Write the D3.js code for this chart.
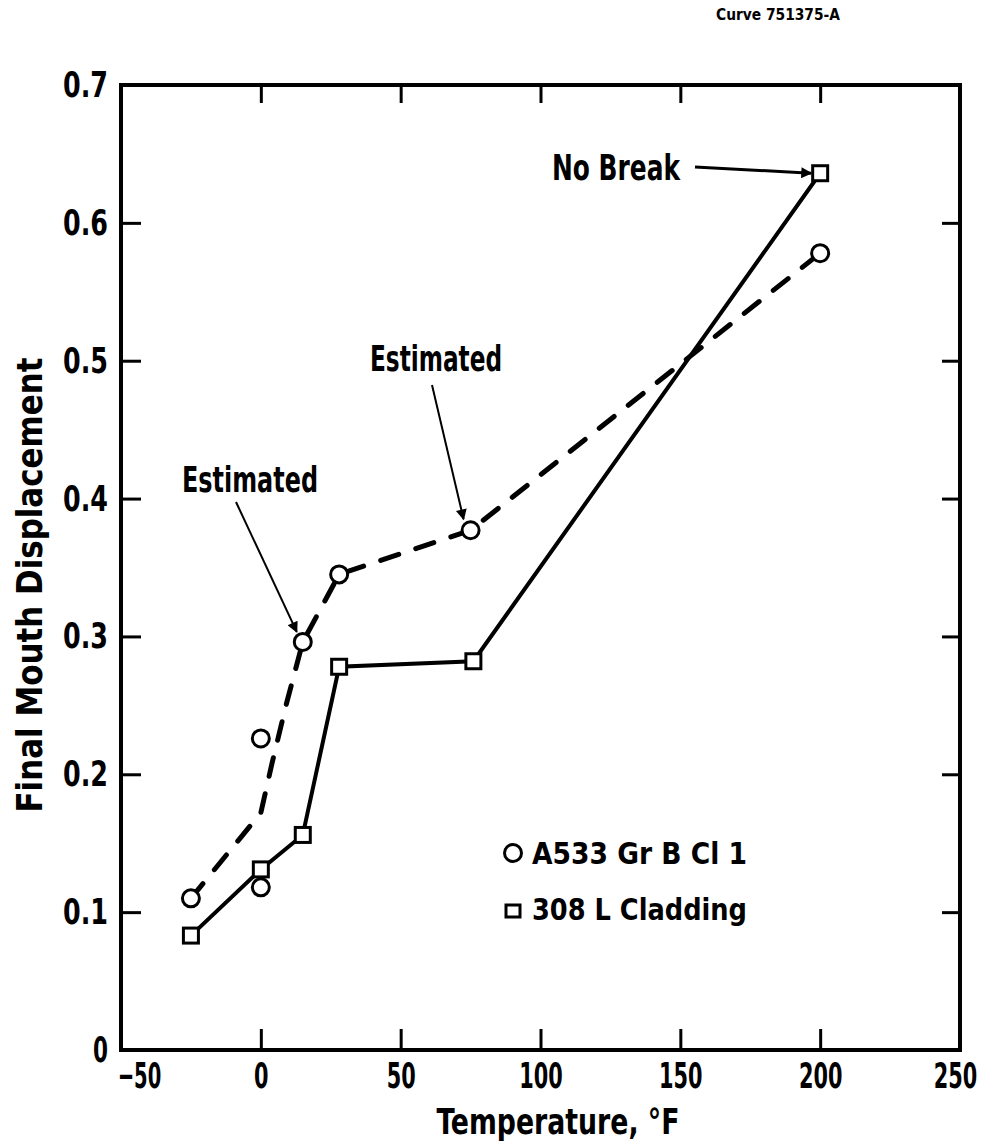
<!DOCTYPE html>
<html>
<head>
<meta charset="utf-8">
<title>Final Mouth Displacement vs Temperature</title>
<script src="https://d3js.org/d3.v7.min.js"></script>
<style>
  body { margin: 0; background: #fff; }
  svg text { font-family: "DejaVu Sans Condensed", "DejaVu Sans", sans-serif; font-weight: bold; fill: #000; }
  .axis path { display: none; }
  .axis line { stroke: #000; stroke-width: 3; }
</style>
</head>
<body>
<svg id="chart" width="989" height="1144"></svg>
<script>
// values
const tempsA533 = [-25, 0, 0, 15, 28, 75, 200];
const dispA533 = [0.110, 0.118, 0.226, 0.296, 0.345, 0.377, 0.578];
// dashed trend line as drawn through the A533 data
const trendTemps = [-25, 0, 4, 9, 15, 28, 75, 200];
const trendDisp = [0.110, 0.172, 0.208, 0.250, 0.296, 0.345, 0.377, 0.578];
const temps308 = [-25, 0, 15, 28, 76, 200];
const disp308 = [0.083, 0.131, 0.156, 0.278, 0.282, 0.636];
const xTicks = [-50, 0, 50, 100, 150, 200, 250];
const yTicks = [0, 0.1, 0.2, 0.3, 0.4, 0.5, 0.6, 0.7];
const yTickLabels = ["0", "0.1", "0.2", "0.3", "0.4", "0.5", "0.6", "0.7"];

const pLeft = 121, pRight = 960, pTop = 85, pBottom = 1050;
const svg = d3.select("#chart");

const x = d3.scaleLinear().domain([-50, 250]).range([pLeft, pRight]);
const y = d3.scaleLinear().domain([0, 0.7]).range([pBottom, pTop]);

// squeeze text to the narrow lettering of the original
function narrow(sel, perChar) {
  sel.attr("textLength", function () { return this.textContent.length * perChar; })
    .attr("lengthAdjust", "spacingAndGlyphs");
}

// ticks on all four sides, pointing inward
const xAxis = svg.append("g").attr("class", "axis")
  .attr("transform", "translate(0," + pBottom + ")")
  .call(d3.axisBottom(x).tickValues(xTicks).tickSizeInner(-21).tickPadding(12)
    .tickFormat(d => d < 0 ? "\u2212" + Math.abs(d) : d));
xAxis.selectAll("text").attr("font-size", 36).call(narrow, 14.5)
  .attr("dx", d => d === xTicks[0] ? 18 : (d === xTicks[xTicks.length - 1] ? -5 : 0));

svg.append("g").attr("class", "axis")
  .attr("transform", "translate(0," + pTop + ")")
  .call(d3.axisTop(x).tickValues(xTicks.slice(1, -1)).tickSizeInner(-18).tickFormat(""));

const yAxis = svg.append("g").attr("class", "axis")
  .attr("transform", "translate(" + pLeft + ",0)")
  .call(d3.axisLeft(y).tickValues(yTicks).tickSizeInner(-20).tickPadding(13)
    .tickFormat((d, i) => yTickLabels[i]));
yAxis.selectAll("text").attr("font-size", 36).call(narrow, 15);

svg.append("g").attr("class", "axis")
  .attr("transform", "translate(" + pRight + ",0)")
  .call(d3.axisRight(y).tickValues(yTicks.slice(1, -1)).tickSizeInner(-18).tickFormat(""));

// frame
svg.append("rect")
  .attr("x", pLeft).attr("y", pTop)
  .attr("width", pRight - pLeft).attr("height", pBottom - pTop)
  .attr("fill", "none").attr("stroke", "#000").attr("stroke-width", 4);

// lines
const line308 = d3.line().x((d, i) => x(temps308[i])).y(d => y(d));
svg.append("path").datum(disp308)
  .attr("d", line308)
  .attr("fill", "none").attr("stroke", "#000").attr("stroke-width", 4);

const trendLine = d3.line().x((d, i) => x(trendTemps[i])).y(d => y(d));
svg.append("path").datum(trendDisp)
  .attr("d", trendLine)
  .attr("fill", "none").attr("stroke", "#000").attr("stroke-width", 5)
  .attr("stroke-linecap", "round").attr("stroke-linejoin", "round")
  .attr("stroke-dasharray", "19,18");

// markers
svg.selectAll(".sq").data(disp308).enter().append("rect")
  .attr("class", "sq")
  .attr("x", (d, i) => x(temps308[i]) - 7.5).attr("y", d => y(d) - 7.5)
  .attr("width", 15).attr("height", 15)
  .attr("fill", "#fff").attr("stroke", "#000").attr("stroke-width", 3);

svg.selectAll(".ci").data(dispA533).enter().append("circle")
  .attr("class", "ci")
  .attr("cx", (d, i) => x(tempsA533[i])).attr("cy", d => y(d))
  .attr("r", 8.5)
  .attr("fill", "#fff").attr("stroke", "#000").attr("stroke-width", 3);

// arrows
const defs = svg.append("defs");
defs.append("marker").attr("id", "head")
  .attr("viewBox", "0 0 10 10").attr("refX", 9).attr("refY", 5)
  .attr("markerWidth", 16).attr("markerHeight", 11).attr("orient", "auto")
  .attr("markerUnits", "userSpaceOnUse")
  .append("path").attr("d", "M0,0 L10,5 L0,10 z").attr("fill", "#000");

function arrow(x1, y1, x2, y2, w) {
  svg.append("line")
    .attr("x1", x1).attr("y1", y1).attr("x2", x2).attr("y2", y2)
    .attr("stroke", "#000").attr("stroke-width", w)
    .attr("marker-end", "url(#head)");
}
arrow(695, 167, x(200) - 9, y(0.636), 3);
arrow(432, 385, x(75) - 7, y(0.377) - 11, 2);
arrow(236, 502, x(15) - 6, y(0.296) - 10, 2);

// annotation texts
svg.append("text").attr("x", 552).attr("y", 180).attr("font-size", 35)
  .attr("textLength", 128).attr("lengthAdjust", "spacingAndGlyphs").text("No Break");
svg.append("text").attr("x", 370).attr("y", 371).attr("font-size", 35)
  .attr("textLength", 132).attr("lengthAdjust", "spacingAndGlyphs").text("Estimated");
svg.append("text").attr("x", 182).attr("y", 492).attr("font-size", 35)
  .attr("textLength", 136).attr("lengthAdjust", "spacingAndGlyphs").text("Estimated");
svg.append("text").attr("x", 716).attr("y", 20).attr("font-size", 15)
  .attr("font-family", "DejaVu Sans Mono")
  .attr("textLength", 124).attr("lengthAdjust", "spacingAndGlyphs").text("Curve 751375-A");

// legend
const legend = svg.append("g");
legend.append("circle").attr("cx", 513).attr("cy", 853).attr("r", 8.5)
  .attr("fill", "#fff").attr("stroke", "#000").attr("stroke-width", 3);
legend.append("text").attr("x", 532).attr("y", 864).attr("font-size", 30)
  .attr("textLength", 215).attr("lengthAdjust", "spacingAndGlyphs").text("A533 Gr B Cl 1");
legend.append("rect").attr("x", 506).attr("y", 905).attr("width", 14).attr("height", 12)
  .attr("fill", "#fff").attr("stroke", "#000").attr("stroke-width", 3);
legend.append("text").attr("x", 532).attr("y", 920).attr("font-size", 30)
  .attr("textLength", 215).attr("lengthAdjust", "spacingAndGlyphs").text("308 L Cladding");

// axis titles
svg.append("text")
  .attr("x", 558).attr("y", 1134)
  .attr("text-anchor", "middle").attr("font-size", 36)
  .attr("textLength", 243).attr("lengthAdjust", "spacingAndGlyphs")
  .text("Temperature, \u00B0F");
svg.append("text")
  .attr("transform", "translate(42,585) rotate(-90)")
  .attr("text-anchor", "middle").attr("font-size", 35)
  .attr("textLength", 455).attr("lengthAdjust", "spacingAndGlyphs")
  .text("Final Mouth Displacement");
</script>
</body>
</html>
